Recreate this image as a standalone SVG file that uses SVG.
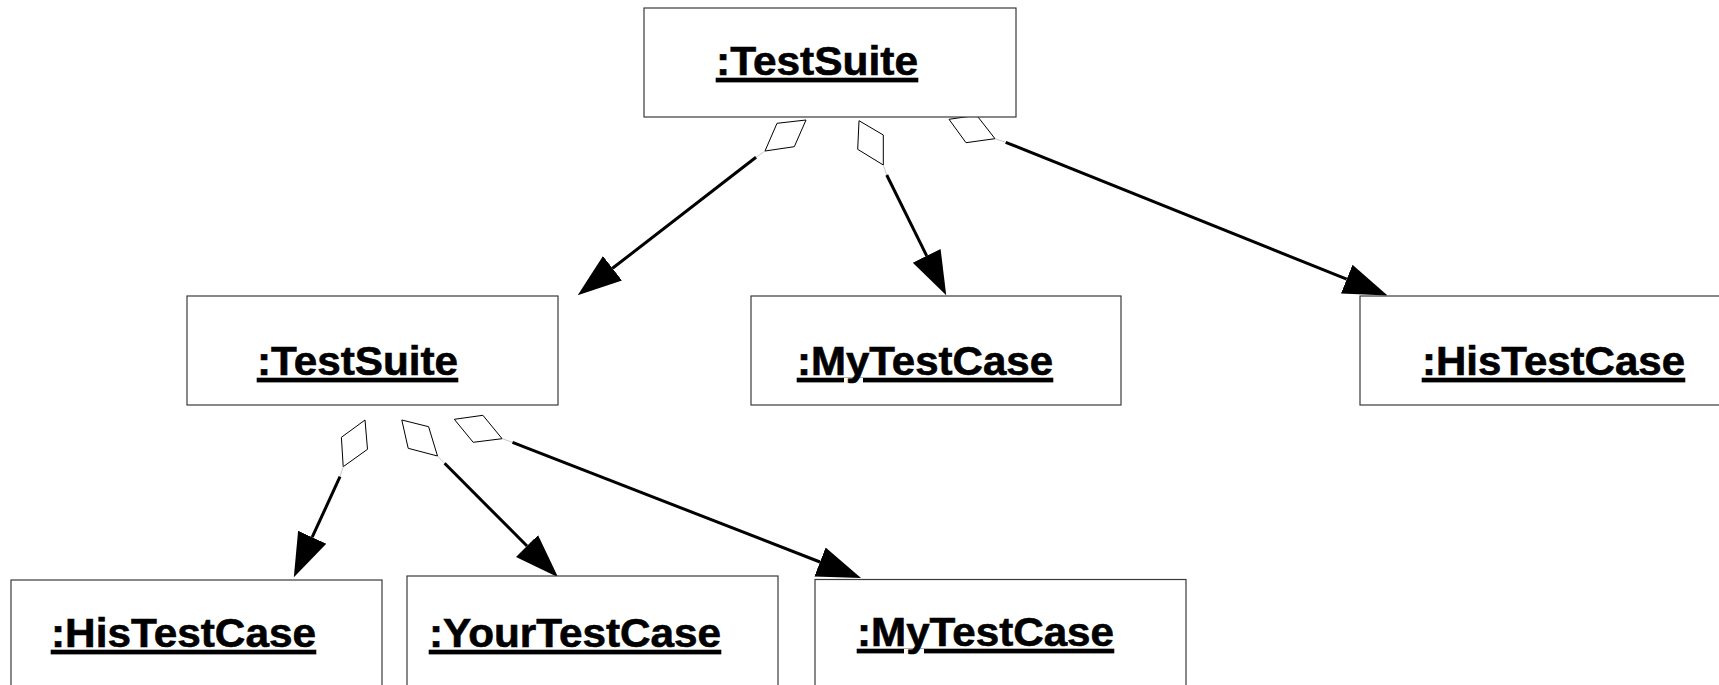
<svg xmlns="http://www.w3.org/2000/svg" width="1719" height="685" viewBox="0 0 1719 685">
<defs>
<style>
.box{fill:#fff;stroke:#3a3a3a;stroke-width:1.2}
.lbl{font-family:"Liberation Sans",Arial,sans-serif;font-weight:bold;font-size:40.5px;fill:#000;stroke:#000;stroke-width:0.6;text-decoration:underline}
.dia{fill:#fff;stroke:#000;stroke-width:1}
.faint{stroke:#c8c8c8;stroke-width:1;fill:none}
.edge{stroke:#000;stroke-width:3;fill:none;marker-end:url(#arrow)}
</style>
<marker id="arrow" markerUnits="userSpaceOnUse" markerWidth="50" markerHeight="34" viewBox="0 -17 50 34" refX="0" refY="0" orient="auto">
<path d="M0,-15.5 L44,0 L0,15.5 Z" fill="#000"/>
</marker>
</defs>
<rect width="1719" height="685" fill="#fff"/>
<g id="connectors">
<polygon class="dia" points="806,120 777,123.3 765,151 794.3,146.7"/>
<line class="faint" x1="765" y1="151" x2="756" y2="157.3"/>
<line class="edge" x1="756" y1="157.3" x2="612.5" y2="268.3"/>
<polygon class="dia" points="859,120.7 883.3,135 883.3,165 857.7,149.3"/>
<line class="faint" x1="883.3" y1="165" x2="886.7" y2="175"/>
<line class="edge" x1="886.7" y1="175" x2="926.7" y2="255.8"/>
<polygon class="dia" points="949,119.3 976.7,115.3 995,138.7 966,142.7"/>
<line class="faint" x1="995" y1="138.7" x2="1005.7" y2="142.3"/>
<line class="edge" x1="1005.7" y1="142.3" x2="1346.7" y2="279.2"/>
<polygon class="dia" points="365,420 341.4,437.3 343.2,466.7 367.5,449.3"/>
<line class="faint" x1="343.2" y1="466.7" x2="340" y2="476.7"/>
<line class="edge" x1="340" y1="476.7" x2="312.2" y2="537.2"/>
<polygon class="dia" points="401.8,420 428.6,426.7 437.5,456 408.2,448.3"/>
<line class="faint" x1="437.5" y1="456" x2="444.6" y2="463.3"/>
<line class="edge" x1="444.6" y1="463.3" x2="527" y2="546"/>
<polygon class="dia" points="454.3,419.3 482.9,415.3 502.1,438.7 473.2,442.3"/>
<line class="faint" x1="502.1" y1="438.7" x2="512.5" y2="442.3"/>
<line class="edge" x1="512.5" y1="442.3" x2="820" y2="562"/>
</g>
<g id="top-testsuite">
<rect class="box" x="644" y="8" width="372" height="109"/>
<text class="lbl" x="716" y="75" textLength="202" lengthAdjust="spacingAndGlyphs">:TestSuite</text>
</g>
<g id="mid-testsuite">
<rect class="box" x="187" y="296" width="371" height="109"/>
<text class="lbl" x="257" y="375" textLength="201" lengthAdjust="spacingAndGlyphs">:TestSuite</text>
</g>
<g id="mid-mytestcase">
<rect class="box" x="751" y="296" width="370" height="109"/>
<text class="lbl" x="797" y="375" textLength="256" lengthAdjust="spacingAndGlyphs">:MyTestCase</text>
</g>
<g id="mid-histestcase">
<rect class="box" x="1360" y="296" width="372" height="109"/>
<text class="lbl" x="1422" y="375" textLength="263" lengthAdjust="spacingAndGlyphs">:HisTestCase</text>
</g>
<g id="bot-histestcase">
<rect class="box" x="11" y="580" width="371" height="110"/>
<text class="lbl" x="51" y="647" textLength="265" lengthAdjust="spacingAndGlyphs">:HisTestCase</text>
</g>
<g id="bot-yourtestcase">
<rect class="box" x="407" y="576" width="371" height="114"/>
<text class="lbl" x="429" y="647" textLength="292" lengthAdjust="spacingAndGlyphs">:YourTestCase</text>
</g>
<g id="bot-mytestcase">
<rect class="box" x="815" y="579.5" width="371" height="110"/>
<text class="lbl" x="857" y="646" textLength="257" lengthAdjust="spacingAndGlyphs">:MyTestCase</text>
</g>
</svg>
